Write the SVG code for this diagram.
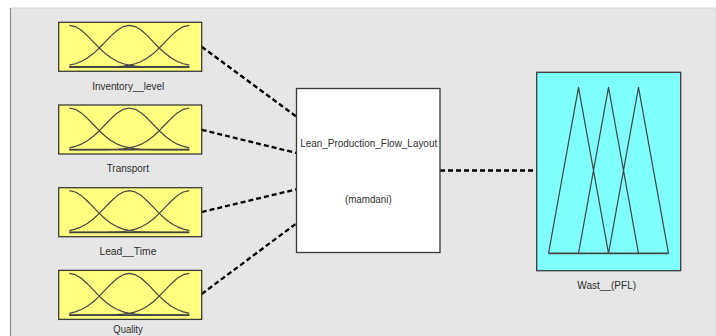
<svg xmlns="http://www.w3.org/2000/svg" xmlns:xlink="http://www.w3.org/1999/xlink" width="716" height="336" viewBox="0 0 716 336">
<style>
.lbl{font-family:"Liberation Sans",Arial,sans-serif;font-size:11.5px;fill:#2e2e2e;text-anchor:middle}
.mf{fill:none;stroke:#444;stroke-width:1.2;stroke-linejoin:round}
.base{stroke:#444;stroke-width:1.8}
.box{stroke:#3a3a3a;stroke-width:1.3}
.conn{fill:none;stroke:#000;stroke-width:2.3;stroke-dasharray:5 3}
</style>
<defs>
<g id="mfin">
<rect class="box" x="0" y="0" width="143" height="49" fill="#ffff80"/>
<path class="mf" d="M10.6,3 L16.6,4.3 22.6,7.9 28.6,13.3 34.6,19.5 40.6,25.7 46.6,31.3 52.6,35.8 58.6,39.15 64.6,41.45 70.6,42.9 76.6,43.8 82.6,44.25 88.6,44.5 94.6,44.65 130.6,44.7"/>
<path class="mf" d="M10.6,42.9 L16.6,41.45 22.6,39.15 28.6,35.8 34.6,31.3 40.6,25.7 46.6,19.5 52.6,13.3 58.6,7.9 64.6,4.3 70.6,3 76.6,4.3 82.6,7.9 88.6,13.3 94.6,19.5 100.6,25.7 106.6,31.3 112.6,35.8 118.6,39.15 124.6,41.45 130.6,42.9"/>
<path class="mf" d="M10.6,44.7 L46.6,44.65 52.6,44.5 58.6,44.25 64.6,43.8 70.6,42.9 76.6,41.45 82.6,39.15 88.6,35.8 94.6,31.3 100.6,25.7 106.6,19.5 112.6,13.3 118.6,7.9 124.6,4.3 130.6,3"/>
<line class="base" x1="10.6" y1="44.7" x2="130.6" y2="44.7"/>
</g>
</defs>
<rect x="0" y="0" width="716" height="336" fill="#ffffff"/>
<rect x="10.5" y="8" width="706" height="330" fill="#e6e6e6"/>
<line x1="10.5" y1="8" x2="716" y2="8" stroke="#d4d4d4" stroke-width="1"/>
<line x1="10.5" y1="8" x2="10.5" y2="336" stroke="#8a8a8a" stroke-width="1.2"/>

<g id="connectors">
<line class="conn" x1="201.7" y1="46.8" x2="296.5" y2="116.7"/>
<line class="conn" x1="201.7" y1="129.8" x2="296.5" y2="153"/>
<line class="conn" x1="201.7" y1="212" x2="296.5" y2="189.3"/>
<line class="conn" x1="201.7" y1="294" x2="296.5" y2="223.3"/>
<line class="conn" x1="440" y1="170.5" x2="536.7" y2="170.5"/>
</g>

<g id="inventory_level">
<use xlink:href="#mfin" x="58.7" y="22.3"/>
<text class="lbl" x="128.2" y="89.7" textLength="72" lengthAdjust="spacingAndGlyphs">Inventory__level</text>
</g>
<g id="transport">
<use xlink:href="#mfin" x="58.7" y="105"/>
<text class="lbl" x="127.8" y="172.4" textLength="42.3" lengthAdjust="spacingAndGlyphs">Transport</text>
</g>
<g id="lead_time">
<use xlink:href="#mfin" x="58.7" y="187.7"/>
<text class="lbl" x="127.9" y="255.1" textLength="57" lengthAdjust="spacingAndGlyphs">Lead__Time</text>
</g>
<g id="quality">
<use xlink:href="#mfin" x="58.7" y="270.4"/>
<text class="lbl" x="128" y="333.3" textLength="29.3" lengthAdjust="spacingAndGlyphs">Quality</text>
</g>

<g id="fis">
<rect class="box" x="296.5" y="88.5" width="143.5" height="164" fill="#ffffff"/>
<text class="lbl" x="368.7" y="147.3" textLength="137" lengthAdjust="spacingAndGlyphs">Lean_Production_Flow_Layout</text>
<text class="lbl" x="368.3" y="202.5" textLength="46.7" lengthAdjust="spacingAndGlyphs">(mamdani)</text>
</g>

<g id="wast_pfl">
<rect class="box" x="536.7" y="72.3" width="144" height="198.4" fill="#80ffff"/>
<path class="mf" d="M548.5,253.3 L578.5,87.3 608.5,253.3 M578.5,253.3 L608.5,87.3 638.5,253.3 M608.5,253.3 L638.5,87.3 668.5,253.3"/>
<line class="base" x1="548.5" y1="253.3" x2="668.5" y2="253.3"/>
<text class="lbl" x="606.7" y="289" textLength="58.7" lengthAdjust="spacingAndGlyphs">Wast__(PFL)</text>
</g>
</svg>
